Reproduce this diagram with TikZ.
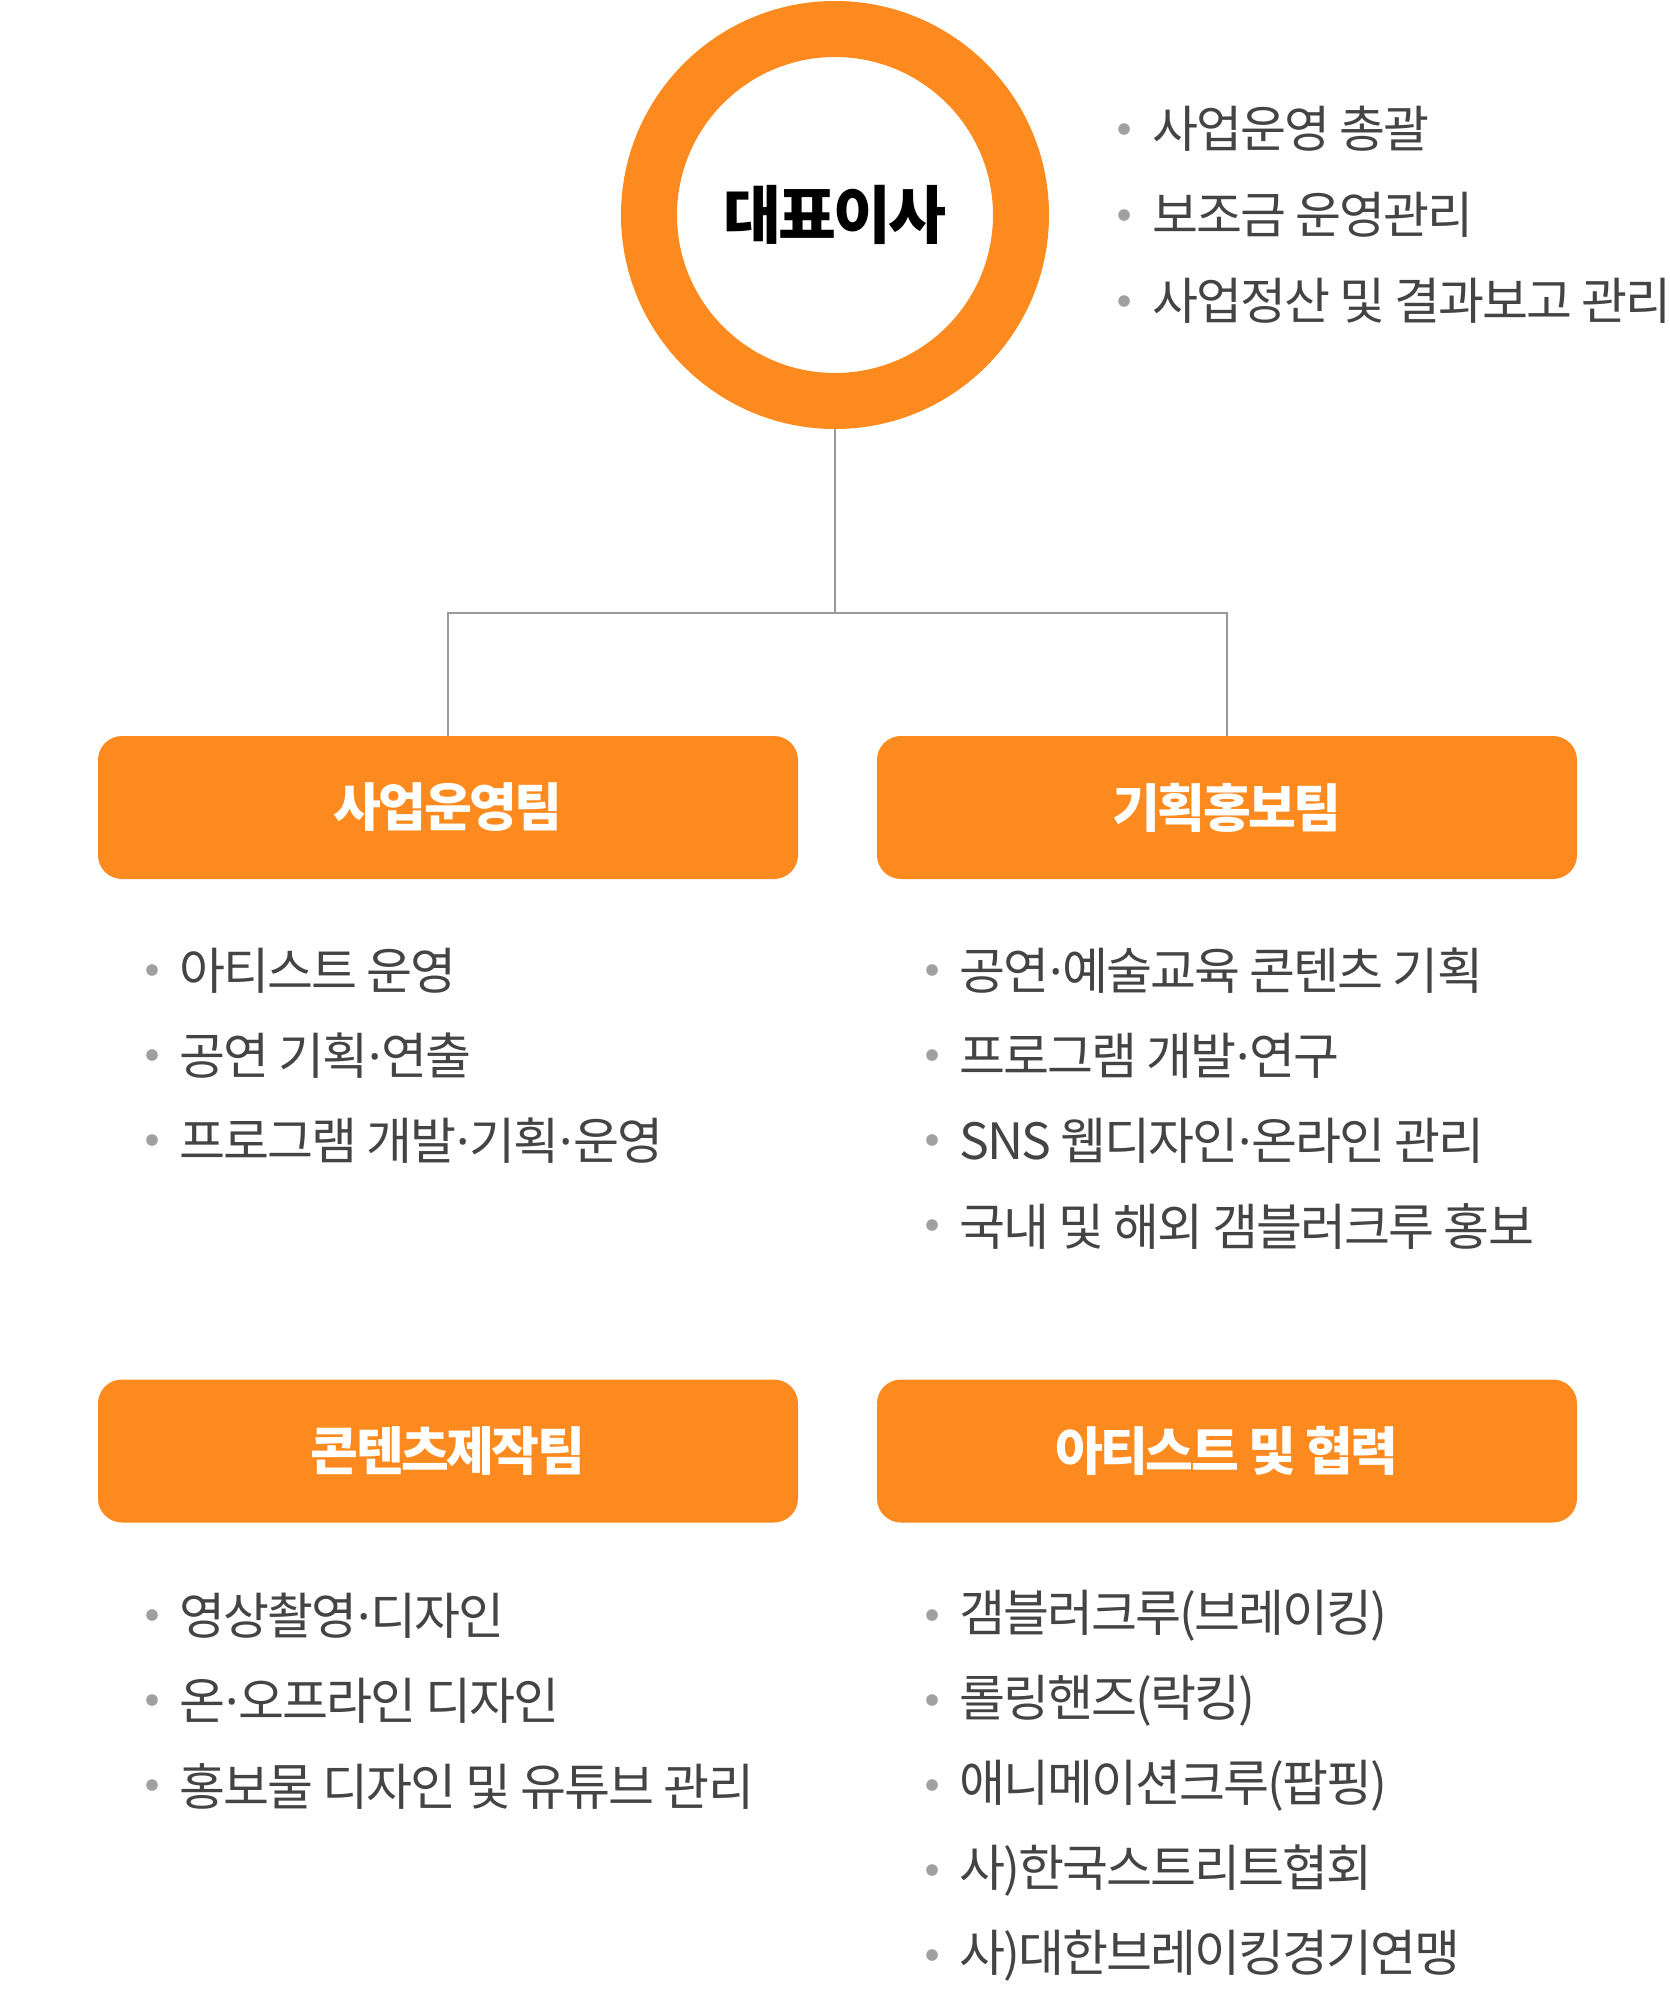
\documentclass[tikz,border=0pt]{standalone}
\usepackage{fontspec}
\setmainfont{Noto Sans CJK KR}
\newfontfamily\krfont[LetterSpace=-5]{Noto Sans CJK KR}
\newfontfamily\krlist[LetterSpace=-4]{Noto Sans CJK KR}
\newfontfamily\dotfont{Noto Sans}
\newcommand\mdot{{\dotfont ·}}
\definecolor{brand}{HTML}{FD8A1E}
\definecolor{txtgray}{HTML}{444444}
\definecolor{dotgray}{HTML}{A0A0A0}
\definecolor{linegray}{HTML}{999999}
\tikzset{
  team/.style={fill=brand, rounded corners=24pt, minimum width=700pt, minimum height=143pt,
    inner sep=0pt, text=white, font=\krfont\bfseries\fontsize{52}{62}\selectfont},
  item/.style={anchor=west, inner sep=0pt, text=txtgray, font=\krlist\fontsize{50}{60}\selectfont},
  bullet/.style={fill=dotgray},
  link/.style={draw=linegray, line width=1.6pt}
}
\begin{document}
\begin{tikzpicture}[x=1pt, y=-1pt]
  \useasboundingbox (0, 0) rectangle (1670, 2000);
  % head
  \node[circle, draw=brand, line width=56pt, minimum size=372pt, outer sep=28pt, inner sep=0pt,
    font=\krfont\bfseries\fontsize{63}{73}\selectfont] (ceo) at (835, 215) {대표이사};
  \foreach \txt [count=\i] in {{사업운영 총괄}, {보조금 운영관리}, {사업정산 및 결과보고 관리}}{
    \fill[bullet] (1124, {129+86*(\i-1)}) circle(5.8);
    \node[item] (ceo\i) at (1152, {129+86*(\i-1)}) {\txt};
  }
  % teams
  \node[team] (ops) at (448, 807.5) {사업운영팀};
  \node[team] (plan) at (1227, 807.5) {기획홍보팀};
  \node[team] (cont) at (448, 1451) {콘텐츠제작팀};
  \node[team] (arts) at (1227, 1451) {아티스트 및 협력};
  % links
  \coordinate (split) at (835, 613);
  \draw[link] (ceo.south) -- (split);
  \draw[link] (split) -| (ops.north);
  \draw[link] (split) -| (plan.north);
  % lists
  \foreach \txt [count=\i] in {{아티스트 운영}, {공연 기획\mdot 연출}, {프로그램 개발\mdot 기획\mdot 운영}}{
    \fill[bullet] (152, {970+85*(\i-1)}) circle(5.8);
    \node[item] (ops\i) at (179, {971+85*(\i-1)}) {\txt};
  }
  \foreach \txt [count=\i] in {{공연\mdot 예술교육 콘텐츠 기획}, {프로그램 개발\mdot 연구}, {SNS 웹디자인\mdot 온라인 관리}, {국내 및 해외 갬블러크루 홍보}}{
    \fill[bullet] (932, {970+85*(\i-1)}) circle(5.8);
    \node[item] (plan\i) at (959, {971+85*(\i-1)}) {\txt};
  }
  \foreach \txt [count=\i] in {{영상촬영\mdot 디자인}, {온\mdot 오프라인 디자인}, {홍보물 디자인 및 유튜브 관리}}{
    \fill[bullet] (152, {1615+85*(\i-1)}) circle(5.8);
    \node[item] (cont\i) at (179, {1616+85*(\i-1)}) {\txt};
  }
  \foreach \txt [count=\i] in {{갬블러크루(브레이킹)}, {롤링핸즈(락킹)}, {애니메이션크루(팝핑)}, {사)한국스트리트협회}, {사)대한브레이킹경기연맹}}{
    \fill[bullet] (932, {1615+85*(\i-1)}) circle(5.8);
    \node[item] (arts\i) at (959, {1616+85*(\i-1)}) {\txt};
  }
\end{tikzpicture}
\end{document}
